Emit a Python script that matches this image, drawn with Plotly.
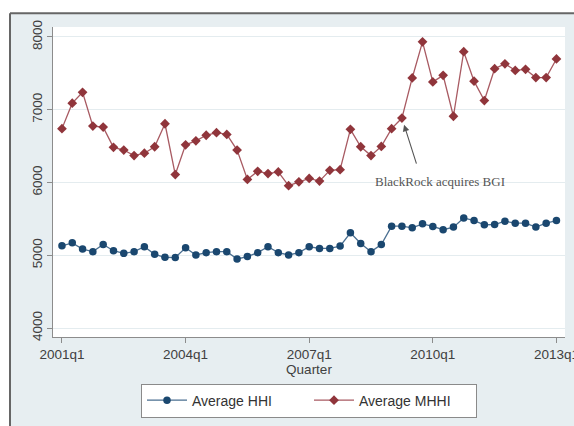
import plotly.graph_objects as go

quarters = [f"{y}q{q}" for y in range(2001, 2014) for q in range(1, 5)][:49]

hhi = [5131, 5171, 5085, 5050, 5148, 5063, 5027, 5050, 5117, 5013,
       4973, 4969, 5104, 5004, 5036, 5050, 5050, 4950, 4982, 5036,
       5117, 5036, 5004, 5036, 5117, 5094, 5094, 5126, 5310, 5162,
       5050, 5148, 5400, 5400, 5378, 5432, 5396, 5351, 5387, 5513,
       5477, 5418, 5423, 5468, 5441, 5441, 5387, 5441, 5477]

mhhi = [6740, 7090, 7239, 6775, 6761, 6483, 6446, 6370, 6402, 6491,
        6807, 6109, 6518, 6572, 6649, 6685, 6660, 6446, 6042, 6154,
        6122, 6145, 5956, 6010, 6055, 6019, 6167, 6176, 6730, 6491,
        6370, 6496, 6740, 6885, 7436, 7932, 7382, 7472, 6910, 7797,
        7392, 7126, 7563, 7630, 7540, 7554, 7441, 7441, 7697]

x_ticks = ["2001q1", "2004q1", "2007q1", "2010q1", "2013q1"]
y_ticks = [4000, 5000, 6000, 7000, 8000]
event_quarter = "2009q2"
event_label = "BlackRock acquires BGI"

W, H = 574, 426
L, R, T, B = 53, 9, 27, 86
pw, ph = W - L - R, H - T - B

def px_x(p):
    return (p - L) / pw

def px_y(p):
    return (H - B - p) / ph

fig = go.Figure()
fig.add_trace(go.Scatter(
    x=quarters, y=hhi, name="Average HHI", mode="lines+markers",
    line=dict(color="#4a6f91", width=1.3),
    marker=dict(symbol="circle", size=7.5, color="#1a476f"),
))
fig.add_trace(go.Scatter(
    x=quarters, y=mhhi, name="Average MHHI", mode="lines+markers",
    line=dict(color="#a85a62", width=1.3),
    marker=dict(symbol="diamond", size=7.5, color="#90353b"),
))

axis_font = dict(family="Liberation Sans, Arial, sans-serif", size=13.5, color="#404040")

fig.update_layout(
    width=W, height=H,
    margin=dict(l=L, r=R, t=T, b=B, pad=0),
    paper_bgcolor="#e7eef1",
    plot_bgcolor="white",
    showlegend=True,
    legend=dict(
        orientation="h", x=px_x(309), xanchor="center", y=px_y(387), yanchor="top",
        bgcolor="white", bordercolor="#8a8a8a", borderwidth=1,
        font=dict(family="Liberation Sans, Arial, sans-serif", size=14, color="#333"),
        entrywidth=112, itemwidth=40,
    ),
    xaxis=dict(
        type="category", range=[-0.87, 48.83], tickmode="array",
        tickvals=x_ticks, ticktext=x_ticks, showgrid=False, zeroline=False,
        showline=True, linecolor="#8c8c8c", linewidth=1.2,
        ticks="outside", ticklen=5, tickcolor="#8c8c8c", tickfont=axis_font,
        title=dict(text="Quarter", font=axis_font, standoff=2),
        automargin=False,
    ),
    yaxis=dict(
        range=[3877.6, 8136], tickmode="array", tickvals=y_ticks,
        showgrid=True, gridcolor="#e4ecef", gridwidth=1, zeroline=False,
        showline=True, linecolor="#8c8c8c", linewidth=1.2,
        ticks="outside", ticklen=5, tickcolor="#8c8c8c", tickfont=axis_font,
        tickangle=-90, automargin=False,
    ),
    shapes=[
        dict(type="rect", xref="paper", yref="paper", x0=px_x(-5), x1=px_x(W + 5),
             y0=px_y(13), y1=px_y(-5), fillcolor="white", line=dict(width=0), layer="above"),
        dict(type="rect", xref="paper", yref="paper", x0=px_x(-5), x1=px_x(10),
             y0=px_y(H + 5), y1=px_y(-5), fillcolor="white", line=dict(width=0), layer="above"),
        dict(type="line", xref="paper", yref="paper", x0=px_x(10), x1=px_x(W + 5),
             y0=px_y(13), y1=px_y(13), line=dict(color="#666", width=2)),
        dict(type="line", xref="paper", yref="paper", x0=px_x(10), x1=px_x(10),
             y0=px_y(13), y1=px_y(H + 5), line=dict(color="#666", width=2)),
    ],
    annotations=[
        dict(x=event_quarter, y=mhhi[quarters.index(event_quarter)], xref="x", yref="y",
             text="", showarrow=True, ax=15, ay=47, axref="pixel", ayref="pixel",
             arrowhead=2, arrowsize=1.2, arrowwidth=1.1, arrowcolor="#555", standoff=7),
        dict(x=px_x(440), y=px_y(183), xref="paper", yref="paper", showarrow=False,
             text=event_label, xanchor="center", yanchor="middle",
             font=dict(family="Liberation Serif, Times New Roman, serif", size=13, color="#555")),
    ],
)

fig.write_html("out.html")
